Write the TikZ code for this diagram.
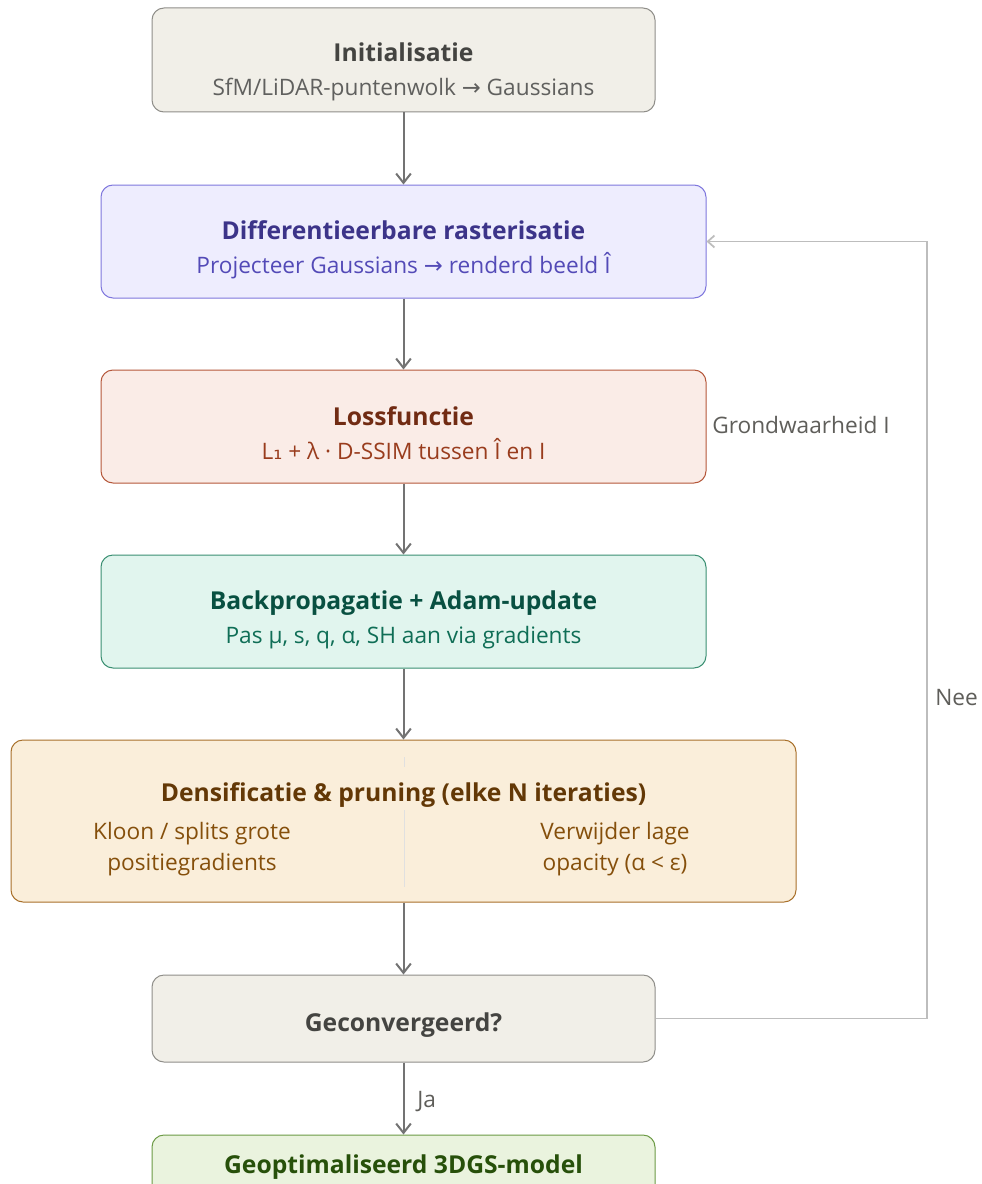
\documentclass[tikz,border=0pt]{standalone}
\usepackage{fontspec}
\setmainfont{Open Sans}
\newfontfamily\symf{DejaVu Sans}
\usetikzlibrary{arrows.meta}
\definecolor{grayfill}{HTML}{F1EFE8}
\definecolor{graydraw}{HTML}{8F8E89}
\definecolor{graytext}{HTML}{444441}
\definecolor{purfill}{HTML}{EEEDFE}
\definecolor{purdraw}{HTML}{7F77DD}
\definecolor{purtitle}{HTML}{3C3489}
\definecolor{pursub}{HTML}{534AB7}
\definecolor{corfill}{HTML}{FAECE7}
\definecolor{cordraw}{HTML}{B5573A}
\definecolor{cortitle}{HTML}{712B13}
\definecolor{corsub}{HTML}{993C1D}
\definecolor{tealfill}{HTML}{E1F5EE}
\definecolor{tealdraw}{HTML}{3A8F72}
\definecolor{tealtitle}{HTML}{085041}
\definecolor{tealsub}{HTML}{0F6E56}
\definecolor{ambfill}{HTML}{FAEEDA}
\definecolor{ambdraw}{HTML}{A8702A}
\definecolor{ambtitle}{HTML}{633806}
\definecolor{ambsub}{HTML}{854F0B}
\definecolor{grnfill}{HTML}{EAF3DE}
\definecolor{grndraw}{HTML}{6C9A45}
\definecolor{grntitle}{HTML}{27500A}
\definecolor{arrgray}{HTML}{737373}
\definecolor{loopgray}{HTML}{BDBDBD}
\definecolor{lblgray}{HTML}{5F5E5A}
\tikzset{
  box/.style={draw, rounded corners=9pt, line width=0.75pt, inner sep=0pt},
  ttl/.style={anchor=base, inner sep=0pt, font=\fontsize{18.5}{22}\selectfont\bfseries},
  sub/.style={anchor=base, inner sep=0pt, font=\fontsize{17}{20}\selectfont},
  lbl/.style={anchor=base west, inner sep=0pt, font=\fontsize{17}{20}\selectfont, text=lblgray},
  arr/.style={draw=arrgray, line width=1.5pt, -{Straight Barb[length=7pt,width=11pt,line width=1.5pt]}},
  backarr/.style={draw=loopgray, line width=1.3pt, -{Straight Barb[length=5pt,width=9pt,line width=1.3pt]}}
}
\begin{document}
\begin{tikzpicture}[x=0.75pt,y=-0.75pt]
\clip (0,0) rectangle (981,1184);
\fill[white] (0,0) rectangle (981,1184);

% boxes
\node[box, fill=grayfill, draw=graydraw, minimum width=377.25pt, minimum height=78pt] (init) at (403.5,60) {};
\node[box, fill=purfill, draw=purdraw, minimum width=453.75pt, minimum height=84.75pt] (diff) at (403.5,241.5) {};
\node[box, fill=corfill, draw=cordraw, minimum width=453.75pt, minimum height=84.75pt] (loss) at (403.5,426.5) {};
\node[box, fill=tealfill, draw=tealdraw, minimum width=453.75pt, minimum height=84.75pt] (back) at (403.5,611.5) {};
\node[box, fill=ambfill, draw=ambdraw, minimum width=588.75pt, minimum height=121.5pt] (dens) at (403.5,821) {};
\node[box, fill=grayfill, draw=graydraw, minimum width=377.25pt, minimum height=65.25pt] (conv) at (403.5,1018.5) {};
\node[box, fill=grnfill, draw=grndraw, minimum width=377.25pt, minimum height=48.75pt] (final) at (403.5,1167.5) {};

% texts
\node[ttl, text=graytext] (t1) at (403.5,62) {Initialisatie};
\node[sub, text=graytext!85!white] (s1) at (403.5,96) {SfM/LiDAR-puntenwolk {\symf →} Gaussians};
\node[ttl, text=purtitle] (t2) at (403.5,239) {Differentieerbare rasterisatie};
\node[sub, text=pursub] (s2) at (403.5,273) {Projecteer Gaussians {\symf →} renderd beeld Î};
\node[ttl, text=cortitle] (t3) at (403.5,425) {Lossfunctie};
\node[sub, text=corsub] (s3) at (403.5,459) {L{\symf ₁} + λ · D-SSIM tussen Î en I};
\node[ttl, text=tealtitle] (t4) at (403.5,609) {Backpropagatie + Adam-update};
\node[sub, text=tealsub] (s4) at (403.5,643) {Pas μ, s, q, α, SH aan via gradients};
\node[ttl, text=ambtitle] (t5) at (403.5,801) {Densificatie \& pruning (elke N iteraties)};
\draw[draw=black!12, line width=0.75pt] (404,757) -- (404,767);
\draw[draw=black!12, line width=0.75pt] (404,810) -- (404,887);
\node[sub, text=ambsub] (s5a) at (192,839) {Kloon / splits grote};
\node[sub, text=ambsub] (s5b) at (192,870) {positiegradients};
\node[sub, text=ambsub] (s5c) at (615,839) {Verwijder lage};
\node[sub, text=ambsub] (s5d) at (615,870) {opacity (α < ε)};
\node[ttl, text=graytext] (t6) at (403.5,1031) {Geconvergeerd?};
\node[ttl, text=grntitle] (t7) at (403.5,1173) {Geoptimaliseerd 3DGS-model};

% side labels
\node[lbl] (gw) at (712,433) {Grondwaarheid I};
\node[lbl] (nee) at (935,705) {Nee};
\node[lbl] (ja) at (417,1107) {Ja};

% arrows
\draw[arr] (init.south) -- (diff.north);
\draw[arr] (diff.south) -- (loss.north);
\draw[arr] (loss.south) -- (back.north);
\draw[arr] (back.south) -- (dens.north);
\draw[arr] (dens.south) -- (conv.north);
\draw[arr] (conv.south) -- (final.north);
\coordinate (loopc) at (927,1018.5);
\draw[backarr] (conv.east) -- (loopc) |- (diff.east);
\end{tikzpicture}
\end{document}
